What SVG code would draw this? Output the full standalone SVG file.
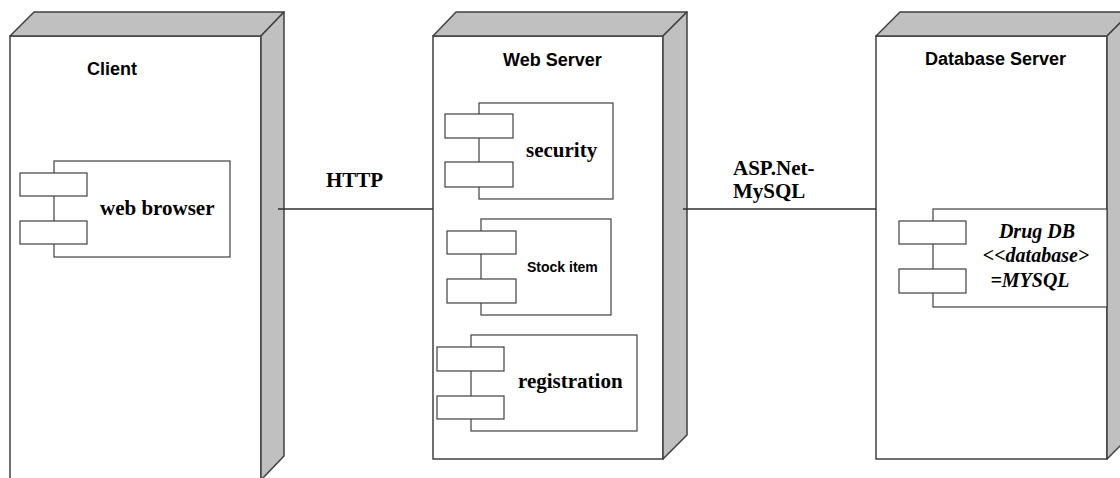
<svg xmlns="http://www.w3.org/2000/svg" width="1120" height="478" viewBox="0 0 1120 478">
<style>
.front{fill:#ffffff;stroke:#404040;stroke-width:1.5}
.face{fill:#c0c0c0;stroke:#404040;stroke-width:1.5;stroke-linejoin:round}
.comp{fill:#ffffff;stroke:#404040;stroke-width:1.2}
.conn{stroke:#303030;stroke-width:1.5;fill:none}
.title{font-family:"Liberation Sans",Arial,sans-serif;font-weight:bold;font-size:18px;fill:#000}
.serif{font-family:"Liberation Serif","Times New Roman",serif;font-weight:bold;font-size:21px;fill:#000}
.dbt{font-family:"Liberation Serif","Times New Roman",serif;font-weight:bold;font-style:italic;font-size:20px;fill:#000}
</style>
<rect width="1120" height="478" fill="#ffffff"/>
<g id="client">
<rect class="front" x="10" y="36" width="251" height="446"/>
<polygon class="face" points="10,36 34,12 284,12 261,36"/>
<polygon class="face" points="261,36 284,12 284,456 261,480"/>
<text class="title" x="87" y="75">Client</text>
<g id="web-browser">
<rect class="comp" x="54" y="161" width="176" height="96"/>
<rect class="comp" x="20" y="173" width="67" height="23"/>
<rect class="comp" x="20" y="221" width="67" height="23"/>
<text class="serif" x="100" y="215">web browser</text>
</g>
</g>
<g id="web-server">
<rect class="front" x="433" y="36" width="230" height="423"/>
<polygon class="face" points="433,36 456,12 687,12 663,36"/>
<polygon class="face" points="663,36 687,12 687,435 663,459"/>
<text class="title" x="503" y="66">Web Server</text>
<g id="security">
<rect class="comp" x="479" y="103" width="134" height="96"/>
<rect class="comp" x="445" y="114" width="68" height="24"/>
<rect class="comp" x="445" y="162" width="68" height="25"/>
<text class="serif" x="526" y="157">security</text>
</g>
<g id="stock-item">
<rect class="comp" x="481" y="219" width="130" height="96"/>
<rect class="comp" x="447" y="231" width="69" height="23"/>
<rect class="comp" x="447" y="279" width="69" height="24"/>
<text class="title" x="527" y="272" style="font-size:14px">Stock item</text>
</g>
<g id="registration">
<rect class="comp" x="471" y="335" width="166" height="96"/>
<rect class="comp" x="437" y="347" width="67" height="24"/>
<rect class="comp" x="437" y="396" width="67" height="23"/>
<text class="serif" x="518" y="388">registration</text>
</g>
</g>
<g id="database-server">
<rect class="front" x="876" y="36" width="231" height="423"/>
<polygon class="face" points="876,36 900,12 1131,12 1107,36"/>
<polygon class="face" points="1107,36 1131,12 1131,435 1107,459"/>
<text class="title" x="925" y="65">Database Server</text>
<g id="drug-db">
<rect class="comp" x="933" y="209" width="174" height="98"/>
<rect class="comp" x="899" y="221" width="67" height="23"/>
<rect class="comp" x="899" y="269" width="67" height="24"/>
<text class="dbt" x="1037" y="238" text-anchor="middle">Drug DB</text>
<text class="dbt" x="1036" y="262" text-anchor="middle">&lt;&lt;database&gt;</text>
<text class="dbt" x="1030" y="287" text-anchor="middle">=MYSQL</text>
</g>
</g>
<g id="connectors">
<line class="conn" x1="278" y1="209" x2="433" y2="209"/>
<text class="serif" x="326" y="187">HTTP</text>
<line class="conn" x1="683" y1="209" x2="876" y2="209"/>
<text class="serif" x="733" y="175">ASP.Net-</text>
<text class="serif" x="733" y="198">MySQL</text>
</g>
</svg>
